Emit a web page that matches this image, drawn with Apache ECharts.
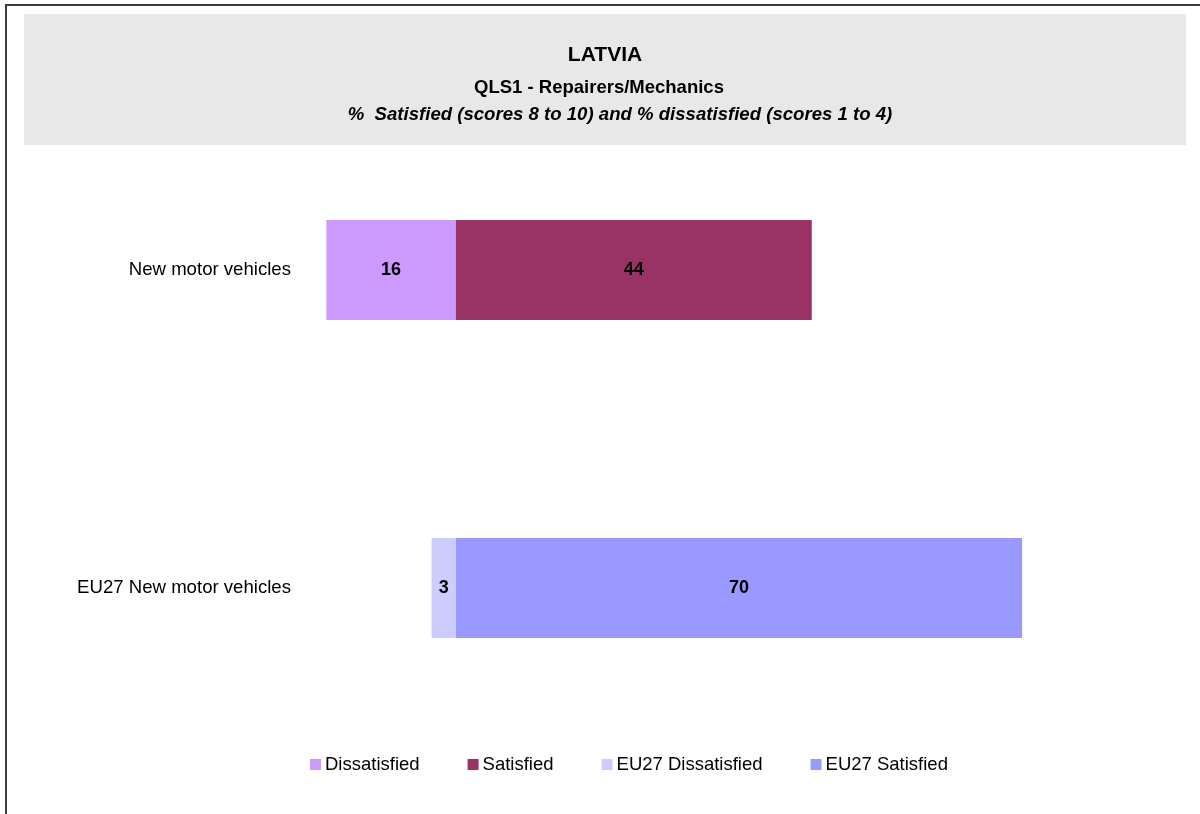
<!DOCTYPE html>
<html>
<head>
<meta charset="utf-8">
<script src="https://cdn.jsdelivr.net/npm/echarts@6/dist/echarts.min.js"></script>
<style>
html,body{margin:0;padding:0;background:#fff;}
#chart{width:1200px;height:814px;}
</style>
</head>
<body>
<div id="chart"></div>
<script>
const categories = ['New motor vehicles', 'EU27 New motor vehicles'];
const seriesNames = ['Dissatisfied', 'Satisfied', 'EU27 Dissatisfied', 'EU27 Satisfied'];
const dissatisfied = [16, null];
const satisfied = [44, null];
const eu27Dissatisfied = [null, 3];
const eu27Satisfied = [null, 70];
const titleText = 'LATVIA';
const subtitleText = 'QLS1 - Repairers/Mechanics';
const noteText = '%  Satisfied (scores 8 to 10) and % dissatisfied (scores 1 to 4)';

const FONT = '"Liberation Sans", Arial, Helvetica, sans-serif';
const colors = ['#CC99FF', '#993366', '#CCCCFF', '#9999FF'];

function neg(arr) { return arr.map(v => v == null ? '-' : -v); }
function pos(arr) { return arr.map(v => v == null ? '-' : v); }

const dataSets = [neg(dissatisfied), pos(satisfied), neg(eu27Dissatisfied), pos(eu27Satisfied)];

const chart = echarts.init(document.getElementById('chart'), null, { renderer: 'canvas' });
const option = {
  animation: false,
  backgroundColor: '#ffffff',
  color: colors,
  graphic: [
    { type: 'rect', z: -10, shape: { x: 6, y: 5, width: 1300, height: 900 }, style: { fill: '#ffffff', stroke: '#3c3c3c', lineWidth: 2 } },
    { type: 'rect', z: -9, shape: { x: 24, y: 14, width: 1162, height: 131 }, style: { fill: '#e8e8e8' } },
    { type: 'text', x: 605, y: 55, style: { text: titleText, font: 'bold 21px ' + FONT, fill: '#000', textAlign: 'center', textVerticalAlign: 'middle' } },
    { type: 'text', x: 599, y: 88, style: { text: subtitleText, font: 'bold 18.5px ' + FONT, fill: '#000', textAlign: 'center', textVerticalAlign: 'middle' } },
    { type: 'text', x: 620, y: 115, style: { text: noteText, font: 'italic bold 18.6px ' + FONT, fill: '#000', textAlign: 'center', textVerticalAlign: 'middle' } }
  ],
  grid: { left: 294, right: 97, top: 111, bottom: 67, containLabel: false },
  xAxis: {
    type: 'value', min: -20, max: 80, show: false,
    splitLine: { show: false }
  },
  yAxis: {
    type: 'category', data: categories, inverse: true,
    axisLine: { show: false }, axisTick: { show: false },
    axisLabel: { margin: 3, color: '#000', fontSize: 18.6, fontFamily: FONT }
  },
  legend: {
    data: seriesNames,
    left: 305, top: 750,
    icon: 'rect', itemWidth: 11, itemHeight: 11, itemGap: 48,
    textStyle: { color: '#000', fontSize: 18.5, fontFamily: FONT, padding: [0, 0, 0, -1] }
  },
  series: seriesNames.map((name, i) => ({
    name: name,
    type: 'bar',
    stack: 'total',
    barWidth: 100,
    data: dataSets[i],
    itemStyle: { color: colors[i] },
    label: {
      show: true, position: 'inside', color: '#000', fontWeight: 'bold', fontSize: 18, fontFamily: FONT,
      formatter: p => Math.abs(p.value)
    }
  }))
};
chart.setOption(option);
</script>
</body>
</html>
